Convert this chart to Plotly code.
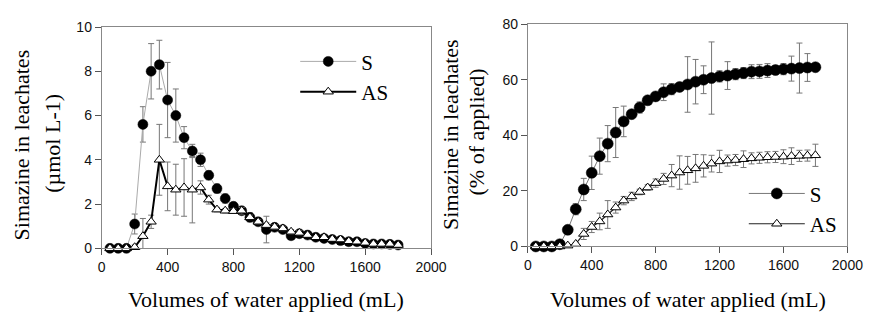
import plotly.graph_objects as go

volume = [50, 100, 150, 200, 250, 300, 350, 400, 450, 500, 550, 600, 650, 700, 750, 800, 850, 900,
          950, 1000, 1050, 1100, 1150, 1200, 1250, 1300, 1350, 1400, 1450, 1500, 1550, 1600, 1650,
          1700, 1750, 1800]

s_conc = [0, 0, 0, 1.1, 5.6, 8.0, 8.3, 6.7, 6.0, 5.0, 4.4, 4.0, 3.3, 2.7, 2.25, 1.9, 1.7, 1.4,
          1.2, 0.85, 0.95, 0.85, 0.57, 0.66, 0.6, 0.5, 0.45, 0.4, 0.35, 0.3, 0.3, 0.22, 0.2, 0.2,
          0.18, 0.15]
s_conc_err = [0, 0, 0, 0.45, 0.8, 1.25, 1.1, 1.7, 1.2, 0.5, 0.3, 0.3, 0.2, 0.2, 0.2, 0.15, 0.15,
              0.2, 0.1, 0.6, 0.1, 0.1, 0.1, 0.1, 0.1, 0.05, 0.05, 0.05, 0.05, 0.05, 0.05, 0.05,
              0.05, 0.05, 0.05, 0.05]
as_conc = [0, 0, 0, 0.05, 0.55, 1.2, 4.0, 2.8, 2.65, 2.75, 2.65, 2.75, 2.2, 1.75, 1.7, 1.68, 1.7,
           1.4, 1.2, 1.05, 0.97, 0.9, 0.75, 0.7, 0.6, 0.5, 0.5, 0.42, 0.4, 0.32, 0.3, 0.25, 0.2,
           0.2, 0.2, 0.15]
as_conc_err = [0, 0, 0, 0.1, 0.8, 0.3, 1.6, 1.1, 1.15, 1.3, 1.5, 0.3, 0.2, 0.1, 0.1, 0.1, 0.15,
               0.1, 0.1, 0.1, 0.1, 0.1, 0.1, 0.1, 0.05, 0.05, 0.05, 0.05, 0.05, 0.05, 0.05, 0.05,
               0.05, 0.05, 0.05, 0.05]

s_cum = [0, 0, 0, 0.8, 6, 13.4, 20.5, 26.5, 32.5, 37, 41, 45, 47.6, 50, 52.6, 54, 55.5, 56.6,
         57.4, 58.3, 59.3, 60, 60.6, 61.2, 61.5, 62, 62.4, 62.9, 63, 63.3, 63.5, 63.8, 64, 64.2,
         64.4, 64.5]
s_cum_err = [0, 0, 0, 0, 1, 2, 4, 6, 6.5, 6.5, 9, 5.5, 1, 2, 1, 1.5, 3, 2, 1, 10, 8, 5, 13, 2,
             5, 2, 2, 2.5, 2.5, 2.5, 1.5, 2, 4.5, 9, 5, 1]
as_cum = [0, 0, 0, 0, 0.3, 0.9, 4.5, 7, 9, 11.5, 14, 16.5, 18, 19.6, 21.2, 22.8, 24.3, 25.5,
          26.6, 27.4, 28.1, 29, 29.8, 30.6, 30.9, 31.1, 31.4, 31.7, 31.9, 32.1, 32.2, 32.3, 32.5,
          32.6, 32.7, 32.8]
as_cum_err = [0, 0, 0, 0, 0, 0.5, 2, 2, 3, 5, 2, 1.5, 1.5, 1, 1, 1.5, 2, 4, 6, 5, 5, 4, 3, 4, 2,
              2, 3, 2, 2, 2, 2, 2.5, 3, 2, 2, 4]

x_ticks = [0, 400, 800, 1200, 1600, 2000]
y1_ticks = [0, 2, 4, 6, 8, 10]
y2_ticks = [0, 20, 40, 60, 80]

SERIF = "Liberation Serif, Times New Roman, serif"
SANS = "Liberation Sans, Arial, sans-serif"
ERR = dict(type="data", thickness=1, width=3, color="#777")

fig = go.Figure()

fig.add_trace(go.Scatter(
    x=volume, y=s_conc, name="S", mode="lines+markers", xaxis="x", yaxis="y", legend="legend",
    line=dict(color="#aaaaaa", width=1),
    marker=dict(symbol="circle", size=10, color="black", line=dict(color="black", width=0.5)),
    error_y=dict(array=s_conc_err, **ERR), cliponaxis=False))
fig.add_trace(go.Scatter(
    x=volume, y=as_conc, name="AS", mode="lines+markers", xaxis="x", yaxis="y", legend="legend",
    line=dict(color="black", width=2),
    marker=dict(symbol="triangle-up", size=9, color="white", line=dict(color="black", width=1)),
    error_y=dict(array=as_conc_err, **ERR), cliponaxis=False))

fig.add_trace(go.Scatter(
    x=volume, y=s_cum, name="S", mode="lines+markers", xaxis="x2", yaxis="y2", legend="legend2",
    line=dict(color="#777777", width=1),
    marker=dict(symbol="circle", size=11, color="black", line=dict(color="black", width=0.5)),
    error_y=dict(array=s_cum_err, **ERR), cliponaxis=False))
fig.add_trace(go.Scatter(
    x=volume, y=as_cum, name="AS", mode="lines+markers", xaxis="x2", yaxis="y2", legend="legend2",
    line=dict(color="#222222", width=1.2),
    marker=dict(symbol="triangle-up", size=9, color="white", line=dict(color="black", width=1)),
    error_y=dict(array=as_cum_err, **ERR), cliponaxis=False))

axis_common = dict(showgrid=False, zeroline=False, showline=True, linecolor="#888", linewidth=1,
                   mirror=True, ticks="outside", ticklen=6, tickcolor="#555",
                   tickfont=dict(family=SANS, size=14, color="#111"))

legend_font = dict(family=SERIF, size=21, color="black")
fig.update_layout(
    width=880, height=320, margin=dict(l=0, r=0, t=0, b=0),
    paper_bgcolor="white", plot_bgcolor="white", showlegend=True,
    xaxis=dict(domain=[100 / 880, 437 / 880], range=[0, 2000], tickvals=x_ticks, anchor="y",
               **axis_common),
    yaxis=dict(domain=[1 - 253 / 320, 1 - 20 / 320], range=[0, 10], tickvals=y1_ticks,
               anchor="x", **axis_common),
    xaxis2=dict(domain=[536 / 880, 863 / 880], range=[0, 2000], tickvals=x_ticks, anchor="y2",
                **axis_common),
    yaxis2=dict(domain=[1 - 251 / 320, 1 - 17 / 320], range=[0, 80], tickvals=y2_ticks,
                anchor="x2", **axis_common),
    legend=dict(x=298 / 880, y=1 - 35 / 320, xanchor="left", yanchor="top",
                bgcolor="rgba(0,0,0,0)", font=legend_font, tracegroupgap=0, itemwidth=56),
    legend2=dict(x=757 / 880, y=1 - 174 / 320, xanchor="left", yanchor="top",
                 bgcolor="rgba(0,0,0,0)", font=legend_font, tracegroupgap=0, itemwidth=56),
)

title_font = dict(family=SERIF, size=22, color="black")
annots = [
    dict(text="Simazine in leachates", x=18, y=144, textangle=-90),
    dict(text="(µmol L-1)", x=50, y=142, textangle=-90),
    dict(text="Simazine in leachates", x=457, y=133, textangle=-90),
    dict(text="(% of applied)", x=483, y=131, textangle=-90),
    dict(text="Volumes of water applied (mL)", x=268, y=307, textangle=0),
    dict(text="Volumes of water applied (mL)", x=700, y=307, textangle=0),
]
for a in annots:
    fig.add_annotation(text=a["text"], x=a["x"] / 880, y=1 - a["y"] / 320, xref="paper",
                       yref="paper", showarrow=False, textangle=a["textangle"],
                       xanchor="center", yanchor="middle", font=title_font)

fig.write_html("out.html")
